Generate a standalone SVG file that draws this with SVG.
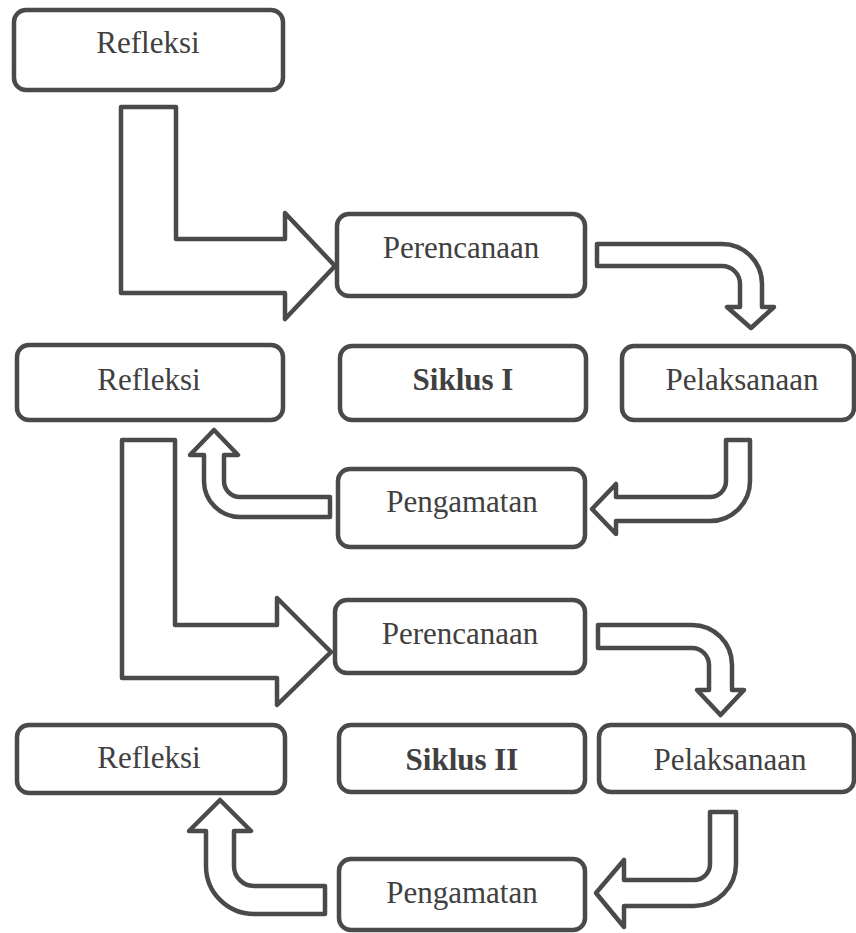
<svg xmlns="http://www.w3.org/2000/svg" width="856" height="933" viewBox="0 0 856 933">
<style>
.box{fill:#ffffff;stroke:#4a4a4a;stroke-width:4.5}
.arr{fill:#ffffff;stroke:#4a4a4a;stroke-width:4.5;stroke-linejoin:round}
.t{font-family:"Liberation Serif","Times New Roman",serif;font-size:31px;fill:#404040;text-anchor:middle}
.b{font-weight:bold}
</style>
<rect width="856" height="933" fill="#ffffff"/>
<g id="connectors">
<polygon class="arr" points="121,107 176,107 176,239 285,239 285,213 335,266 285,319 285,293 121,293"/>
<path class="arr" d="M597,244 H722 A40,40 0 0 1 762,284 V307 H774 L751,328 L727,307 H740 V284 A18,18 0 0 0 722,266 H597 Z"/>
<path class="arr" d="M726,440 H750 V481 A40,40 0 0 1 710,521 H616 V534 L592,509 L616,484 V497 H710 A16,16 0 0 0 726,481 Z"/>
<path class="arr" d="M330,497 V517 H240 A36,36 0 0 1 204,481 V455 H190 L214,430 L238,455 H224 V481 A16,16 0 0 0 240,497 Z"/>
<polygon class="arr" points="122,440 175,440 175,625 277,625 277,598 331,652 277,705 277,678 122,678"/>
<path class="arr" d="M598,625 H692 A40,40 0 0 1 732,665 V690 H744 L720.5,715 L697,690 H709 V665 A17,17 0 0 0 692,648 H598 Z"/>
<path class="arr" d="M710,812 H736 V864 A42,42 0 0 1 694,906 H624 V927 L596,893 L624,860 V880 H694 A16,16 0 0 0 710,864 Z"/>
<path class="arr" d="M325,886 V914 H254 A48,48 0 0 1 206,866 V831 H189 L220,800 L251,831 H234 V866 A20,20 0 0 0 254,886 Z"/>
</g>
<g id="refleksi1"><rect class="box" x="14" y="10" width="269" height="80" rx="12"/><text class="t" x="148" y="53">Refleksi</text></g>
<g id="perencanaan1"><rect class="box" x="337" y="214" width="248" height="82" rx="12"/><text class="t" x="461" y="258">Perencanaan</text></g>
<g id="siklus1"><rect class="box" x="340" y="346" width="246" height="74" rx="12"/><text class="t b" x="463" y="390">Siklus I</text></g>
<g id="pelaksanaan1"><rect class="box" x="622" y="346" width="232" height="74" rx="12"/><text class="t" x="742" y="390">Pelaksanaan</text></g>
<g id="refleksi2"><rect class="box" x="17" y="345" width="266" height="75" rx="12"/><text class="t" x="149" y="390">Refleksi</text></g>
<g id="pengamatan1"><rect class="box" x="338" y="469" width="247" height="78" rx="12"/><text class="t" x="462" y="512">Pengamatan</text></g>
<g id="perencanaan2"><rect class="box" x="335" y="600" width="250" height="73" rx="12"/><text class="t" x="460" y="644">Perencanaan</text></g>
<g id="refleksi3"><rect class="box" x="17" y="725" width="268" height="68" rx="12"/><text class="t" x="149" y="768">Refleksi</text></g>
<g id="siklus2"><rect class="box" x="339" y="725" width="246" height="67" rx="12"/><text class="t b" x="462" y="770">Siklus II</text></g>
<g id="pelaksanaan2"><rect class="box" x="599" y="725" width="255" height="67" rx="12"/><text class="t" x="730" y="770">Pelaksanaan</text></g>
<g id="pengamatan2"><rect class="box" x="339" y="859" width="246" height="71" rx="12"/><text class="t" x="462" y="903">Pengamatan</text></g>
</svg>
